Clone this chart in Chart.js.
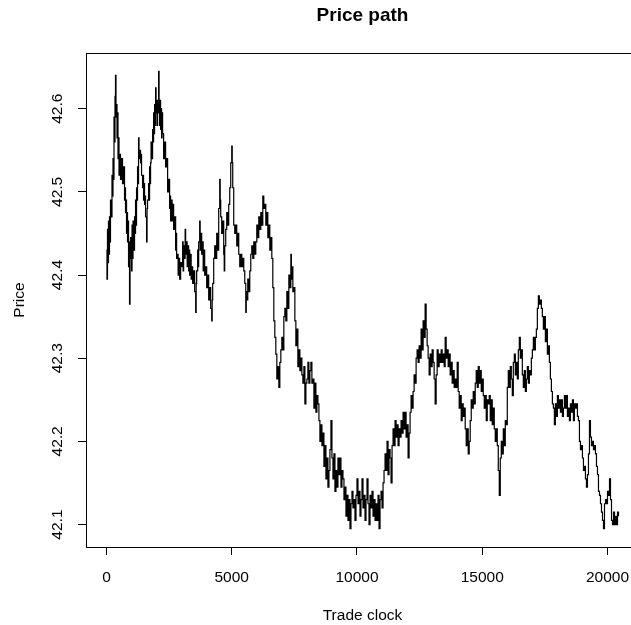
<!DOCTYPE html>
<html>
<head>
<meta charset="utf-8">
<script src="https://cdn.jsdelivr.net/npm/chart.js@4.4.0/dist/chart.umd.min.js"></script>
<style>
  html, body { margin: 0; padding: 0; background: #fff; overflow: hidden; }
  #wrap { width: 631px; height: 625px; overflow: hidden; }
</style>
</head>
<body>
<div id="wrap"><canvas id="grafico" width="660" height="625"></canvas></div>
<script>
const xTicks = [0, 5000, 10000, 15000, 20000];
const yTicks = [42.1, 42.2, 42.3, 42.4, 42.5, 42.6];

// [trade clock, price]
const pathPoints = [
  [0,42.43],[20,42.395],[40,42.455],[60,42.415],[80,42.465],[100,42.425],[120,42.47],[140,42.44],[160,42.49],
  [200,42.47],[220,42.52],[240,42.495],[260,42.54],[280,42.515],[300,42.59],[320,42.56],[340,42.615],[360,42.64],
  [380,42.59],[400,42.605],[420,42.565],[440,42.595],[460,42.54],[480,42.565],[500,42.52],[520,42.545],
  [560,42.515],[580,42.54],[600,42.515],[620,42.54],[640,42.51],[680,42.53],[720,42.49],[740,42.505],
  [760,42.475],[780,42.49],[800,42.45],[820,42.475],[840,42.44],[860,42.465],[880,42.41],[900,42.44],
  [920,42.365],[940,42.42],[960,42.445],
  [1000,42.405],[1020,42.46],[1040,42.42],[1060,42.465],[1080,42.43],[1120,42.47],[1140,42.45],[1160,42.49],
  [1180,42.46],[1200,42.505],[1220,42.49],[1240,42.53],[1260,42.51],[1280,42.565],[1300,42.54],[1320,42.55],
  [1360,42.535],[1380,42.545],[1400,42.52],[1440,42.505],[1460,42.52],[1480,42.49],[1500,42.51],[1520,42.485],
  [1540,42.495],[1560,42.47],[1600,42.44],[1620,42.48],[1640,42.49],[1680,42.51],[1700,42.49],[1720,42.53],
  [1740,42.51],[1760,42.535],[1780,42.56],[1800,42.54],[1840,42.575],[1860,42.56],[1880,42.595],[1900,42.57],
  [1920,42.605],[1940,42.58],[1960,42.625],[1980,42.595],[2000,42.61],[2020,42.58],[2040,42.61],[2060,42.595],
  [2080,42.645],[2100,42.605],[2120,42.58],[2140,42.61],[2160,42.575],[2180,42.6],[2200,42.565],[2220,42.595],
  [2240,42.57],
  [2280,42.54],[2320,42.56],[2360,42.53],[2400,42.54],[2440,42.5],[2480,42.515],[2520,42.48],[2540,42.495],
  [2560,42.465],[2600,42.49],[2620,42.465],[2640,42.485],[2680,42.455],[2720,42.47],[2760,42.43],[2780,42.45],
  [2800,42.42],[2840,42.425],[2860,42.4],[2880,42.42],[2920,42.395],[2960,42.415],[3000,42.41],[3040,42.44],
  [3060,42.405],[3080,42.435],[3120,42.42],[3140,42.455],[3160,42.425],
  [3200,42.44],[3220,42.41],[3240,42.435],[3280,42.405],[3300,42.43],[3320,42.4],[3360,42.425],[3380,42.395],
  [3400,42.41],[3440,42.39],[3480,42.405],[3520,42.38],[3560,42.355],[3580,42.39],[3600,42.405],[3640,42.43],
  [3660,42.41],[3680,42.44],[3720,42.465],[3740,42.43],[3760,42.45],[3800,42.425],[3840,42.44],[3860,42.405],
  [3880,42.43],[3920,42.4],[3960,42.41],[4000,42.385],[4040,42.4],[4080,42.37],[4120,42.385],[4160,42.36],
  [4200,42.345],[4220,42.37],[4240,42.39],[4280,42.42],[4320,42.435],[4360,42.42],[4400,42.45],[4440,42.43],
  [4480,42.48],[4520,42.515],[4540,42.49],[4560,42.47],[4600,42.45],[4640,42.465],[4680,42.425],[4700,42.405],
  [4720,42.435],[4760,42.455],[4800,42.475],[4840,42.46],[4880,42.485],[4920,42.505],[4960,42.535],[5000,42.555],
  [5020,42.535],[5040,42.505],[5080,42.46],[5120,42.45],[5160,42.46],[5200,42.435],[5240,42.45],[5280,42.425],
  [5320,42.41],[5360,42.425],[5400,42.41],[5440,42.42],[5480,42.405],[5520,42.39],[5560,42.355],[5580,42.38],
  [5600,42.37],[5640,42.395],[5680,42.38],[5720,42.405],[5760,42.425],[5800,42.435],[5840,42.42],[5880,42.44],
  [5920,42.425],[5960,42.44],[6000,42.46],[6040,42.445],[6080,42.47],[6120,42.455],[6160,42.475],[6200,42.46],
  [6240,42.495],[6280,42.48],[6320,42.485],[6360,42.46],[6400,42.475],[6440,42.445],[6480,42.46],[6520,42.43],
  [6560,42.445],[6600,42.42],[6640,42.385],[6680,42.345],[6720,42.325],
  [6760,42.305],[6800,42.275],[6840,42.29],[6880,42.265],[6920,42.295],[6960,42.31],[7000,42.325],[7040,42.31],
  [7080,42.35],[7120,42.36],[7160,42.345],[7200,42.38],[7240,42.36],[7280,42.4],[7320,42.385],[7360,42.425],
  [7380,42.395],[7400,42.41],[7440,42.38],[7480,42.385],[7520,42.345],[7560,42.315],[7600,42.335],[7640,42.29],
  [7680,42.31],[7720,42.285],[7760,42.3],[7800,42.28],[7840,42.27],[7880,42.29],[7920,42.245],[7960,42.27],
  [8000,42.275],[8040,42.295],[8080,42.27],[8120,42.285],[8160,42.295],[8200,42.27],[8240,42.275],[8280,42.24],
  [8320,42.27],[8360,42.235],[8400,42.255],[8440,42.245],[8480,42.225],[8520,42.2],[8560,42.22],[8600,42.195],
  [8640,42.21],[8680,42.17],[8720,42.195],[8760,42.155],[8800,42.18],[8840,42.145],[8880,42.165],[8920,42.19],
  [8960,42.225],[9000,42.18],[9040,42.155],[9080,42.185],[9120,42.14],[9160,42.165],[9200,42.145],[9240,42.18],
  [9280,42.16],[9320,42.18],[9360,42.145],[9400,42.165],[9440,42.155],[9480,42.13],[9520,42.145],[9560,42.11],
  [9600,42.135],[9640,42.105],[9680,42.13],[9720,42.095],[9760,42.125],[9800,42.14],[9840,42.12],[9880,42.13],
  [9920,42.105],[9960,42.135],[10000,42.155],[10040,42.125],[10080,42.14],[10120,42.11],[10160,42.13],[10200,42.155],
  [10240,42.12],[10280,42.135],[10320,42.105],[10360,42.13],[10400,42.155],[10440,42.125],[10480,42.1],[10520,42.135],
  [10560,42.12],[10600,42.14],[10640,42.11],[10680,42.13],[10720,42.105],[10760,42.125],[10800,42.105],[10840,42.135],
  [10880,42.095],[10920,42.13],[10960,42.14],[11000,42.12],[11040,42.15],[11080,42.165],[11120,42.185],[11160,42.165],
  [11200,42.2],[11240,42.16],[11280,42.19],[11320,42.18],[11360,42.15],[11400,42.195],[11440,42.215],[11480,42.195],
  [11520,42.225],[11560,42.205],[11600,42.22],[11640,42.195],[11680,42.215],[11720,42.205],[11760,42.225],[11800,42.21],
  [11840,42.235],[11880,42.215],[11920,42.235],[11960,42.205],[12000,42.22],[12040,42.18],[12080,42.21],[12120,42.235],
  [12160,42.255],[12200,42.24],[12240,42.26],[12280,42.28],[12320,42.27],[12360,42.3],[12400,42.31],[12440,42.295],
  [12480,42.315],[12520,42.3],[12560,42.335],[12600,42.31],[12640,42.345],[12680,42.325],[12720,42.365],[12760,42.335],
  [12800,42.315],[12840,42.3],[12880,42.28],[12920,42.305],[12960,42.29],[13000,42.31],[13040,42.295],[13080,42.275],
  [13120,42.245],[13160,42.28],[13200,42.31],[13240,42.29],[13280,42.305],[13320,42.295],[13360,42.31],[13400,42.295],
  [13440,42.305],[13480,42.29],[13520,42.325],[13560,42.3],[13600,42.31],[13640,42.29],[13680,42.305],[13720,42.28],
  [13760,42.295],[13800,42.27],[13840,42.285],[13880,42.265],[13920,42.275],[13960,42.265],[14000,42.295],[14040,42.26],
  [14080,42.24],[14120,42.255],[14160,42.225],
  [14200,42.245],[14240,42.23],[14280,42.24],[14320,42.215],[14360,42.195],[14400,42.215],[14440,42.185],[14480,42.2],
  [14520,42.225],[14560,42.25],[14600,42.24],[14640,42.26],[14680,42.245],[14720,42.27],[14760,42.285],[14800,42.265],
  [14840,42.29],[14880,42.27],[14920,42.285],[14960,42.26],[15000,42.275],[15040,42.255],[15080,42.24],[15120,42.255],
  [15160,42.225],[15200,42.25],[15240,42.245],[15280,42.255],[15320,42.225],[15360,42.25],[15400,42.22],[15440,42.24],
  [15480,42.215],[15520,42.2],[15560,42.215],[15600,42.195],[15640,42.165],[15680,42.135],[15720,42.18],[15760,42.2],
  [15800,42.185],[15840,42.215],[15880,42.195],[15920,42.225],[15960,42.22],[16000,42.265],[16040,42.285],[16080,42.265],
  [16120,42.29],[16160,42.275],[16200,42.255],[16240,42.295],[16280,42.305],[16320,42.28],[16360,42.295],[16400,42.275],
  [16440,42.31],[16480,42.325],[16520,42.3],[16560,42.31],[16600,42.28],[16640,42.265],[16680,42.285],[16720,42.26],
  [16760,42.275],[16800,42.29],[16840,42.27],[16880,42.285],[16920,42.28],[16960,42.3],[17000,42.31],[17040,42.325],
  [17080,42.31],[17120,42.325],[17160,42.335],[17200,42.36],[17240,42.375],[17280,42.365],[17320,42.37],[17360,42.36],
  [17400,42.35],[17440,42.335],[17480,42.35],[17520,42.32],[17560,42.335],[17600,42.305],[17640,42.315],[17680,42.295],
  [17720,42.275],[17760,42.26],[17800,42.245],[17840,42.24],[17880,42.22],[17920,42.245],[17960,42.23],[18000,42.255],
  [18040,42.24],[18080,42.25],[18120,42.235],[18160,42.25],[18200,42.23],[18240,42.24],[18280,42.255],[18320,42.24],
  [18360,42.255],[18400,42.23],[18440,42.24],[18480,42.225],[18520,42.245],[18560,42.235],[18600,42.25],[18640,42.225],
  [18680,42.245],[18720,42.24],[18760,42.245],[18800,42.23],[18840,42.225],[18880,42.2],[18920,42.19],[18960,42.195],
  [19000,42.18],[19040,42.165],[19080,42.17],[19120,42.155],[19160,42.145],[19200,42.16],[19240,42.185],[19280,42.225],
  [19320,42.205],[19360,42.195],[19400,42.2],[19440,42.19],[19480,42.195],[19520,42.185],[19560,42.17],[19600,42.16],
  [19640,42.14],[19680,42.135],[19720,42.125],[19760,42.115],[19800,42.105],[19840,42.095],[19880,42.125],[19920,42.13],
  [19960,42.125],[20000,42.14],[20040,42.135],[20080,42.155],[20120,42.13],[20160,42.105],[20200,42.1],[20240,42.115],
  [20280,42.1],[20320,42.11],[20360,42.1],[20400,42.115],[20440,42.11]
];

const fuente = "'Liberation Sans', Arial, sans-serif";
const relojes = pathPoints.map(p => p[0]);
const precios = pathPoints.map(p => p[1]);
const xMin = Math.min(...relojes), xMax = Math.max(...relojes);
const yMin = Math.min(...precios), yMax = Math.max(...precios);
// R style: axis range stretched 4% on each side
const xPad = (xMax - xMin) * 0.04;
const yPad = (yMax - yMin) * 0.04;

const marcoR = {
  id: 'marcoR',
  afterDraw(chart) {
    const { ctx, chartArea: a, scales } = chart;
    ctx.save();
    ctx.strokeStyle = '#000';
    ctx.lineWidth = 1;
    ctx.strokeRect(Math.round(a.left) + 0.5, Math.round(a.top) + 0.5, a.right - a.left, a.bottom - a.top);

    // y tick labels, rotated like R does
    ctx.fillStyle = '#000';
    ctx.font = `15.5px ${fuente}`;
    ctx.textAlign = 'center';
    ctx.textBaseline = 'middle';
    yTicks.forEach(v => {
      const y = scales.y.getPixelForValue(v);
      ctx.save();
      ctx.translate(58, y);
      ctx.rotate(-Math.PI / 2);
      ctx.fillText(v.toFixed(1), 0, 0);
      ctx.restore();
    });

    ctx.font = `bold 19px ${fuente}`;
    ctx.fillText('Price path', (a.left + a.right) / 2, 16);
    ctx.restore();
  }
};

new Chart(document.getElementById('grafico'), {
  type: 'line',
  data: {
    datasets: [{
      data: pathPoints.map(([x, y]) => ({ x, y })),
      borderColor: '#000',
      borderWidth: 1.2,
      pointRadius: 0,
      fill: false,
      tension: 0,
      stepped: true
    }]
  },
  options: {
    responsive: false,
    animation: false,
    devicePixelRatio: 1,
    layout: { padding: { top: 53, right: 21, left: 0, bottom: 0 } },
    plugins: { legend: { display: false }, tooltip: { enabled: false } },
    scales: {
      x: {
        type: 'linear',
        min: xMin - xPad,
        max: xMax + xPad,
        afterBuildTicks: s => { s.ticks = xTicks.map(v => ({ value: v })); },
        afterFit: s => { s.height = 78; },
        ticks: {
          color: '#000',
          font: { family: fuente, size: 15.5 },
          padding: 13,
          maxRotation: 0,
          callback: v => String(v)
        },
        grid: { display: true, drawOnChartArea: false, drawTicks: true, tickLength: 8, color: '#000' },
        border: { display: true, color: '#000' },
        title: {
          display: true,
          text: 'Trade clock',
          color: '#000',
          font: { family: fuente, size: 15.5 },
          padding: { top: 0, bottom: 0 }
        }
      },
      y: {
        type: 'linear',
        min: yMin - yPad,
        max: yMax + yPad,
        afterBuildTicks: s => { s.ticks = yTicks.map(v => ({ value: v })); },
        afterFit: s => { s.width = 86; },
        ticks: { display: false },
        grid: { display: true, drawOnChartArea: false, drawTicks: true, tickLength: 8, color: '#000' },
        border: { display: true, color: '#000' },
        title: {
          display: true,
          text: 'Price',
          color: '#000',
          font: { family: fuente, size: 15.5 },
          padding: { top: 10, bottom: 0 }
        }
      }
    }
  },
  plugins: [marcoR]
});
</script>
</body>
</html>
